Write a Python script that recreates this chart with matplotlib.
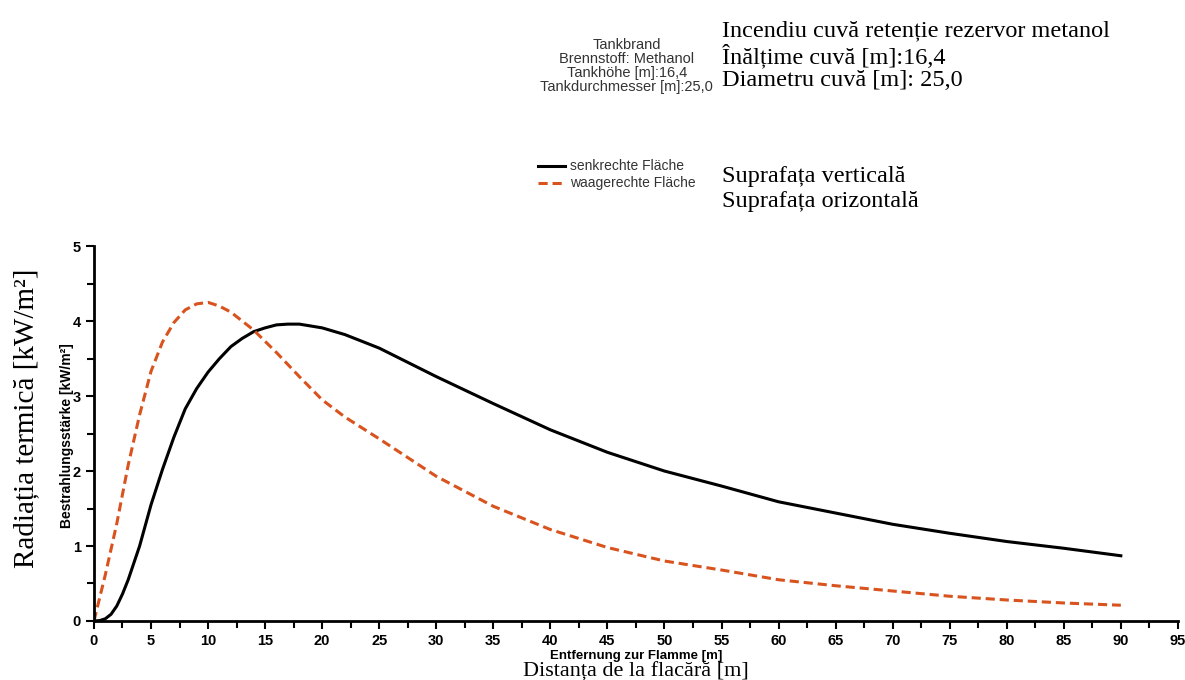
import matplotlib
matplotlib.use("Agg")
import matplotlib.pyplot as plt
from matplotlib.ticker import MultipleLocator

# data
x_vert = [0, 0.5, 1, 1.5, 2, 2.5, 3, 4, 5, 6, 7, 8, 9, 10, 11, 12, 13, 14, 15, 16, 17, 18,
          20, 22, 25, 30, 35, 40, 45, 50, 55, 60, 65, 70, 75, 80, 85, 90]
y_vert = [0, 0.005, 0.03, 0.09, 0.2, 0.36, 0.55, 1.0, 1.55, 2.02, 2.45, 2.83, 3.1, 3.32,
          3.5, 3.66, 3.77, 3.86, 3.91, 3.95, 3.96, 3.96, 3.91, 3.82, 3.64, 3.26, 2.9, 2.55,
          2.25, 2.0, 1.8, 1.59, 1.44, 1.29, 1.17, 1.06, 0.97, 0.87]

x_horiz = [0, 1, 2, 3, 4, 5, 6, 7, 8, 9, 10, 11, 12, 13, 14, 15, 16, 18, 20, 22, 25, 30,
           35, 40, 45, 50, 55, 60, 65, 70, 75, 80, 85, 90]
y_horiz = [0, 0.62, 1.3, 2.08, 2.75, 3.33, 3.72, 3.98, 4.15, 4.23, 4.25, 4.2, 4.12, 4.0,
           3.88, 3.73, 3.58, 3.26, 2.95, 2.72, 2.43, 1.93, 1.53, 1.22, 0.98, 0.8, 0.68,
           0.55, 0.47, 0.4, 0.33, 0.28, 0.24, 0.21]

orange = "#d9531e"
sans = ["Liberation Sans Narrow", "Liberation Sans", "DejaVu Sans"]
serif = ["Liberation Serif", "DejaVu Serif"]

fig = plt.figure(figsize=(11.85, 6.8), dpi=100)
ax = fig.add_axes([0.0793, 0.0868, 0.9147, 0.5512])

ax.plot(x_vert, y_vert, color="black", lw=2.2)
ax.plot(x_horiz, y_horiz, color=orange, lw=2.2, ls=(0, (3, 1.6)))

ax.set_xlim(0, 95)
ax.set_ylim(0, 5)
ax.xaxis.set_major_locator(MultipleLocator(5))
ax.xaxis.set_minor_locator(MultipleLocator(2.5))
ax.yaxis.set_major_locator(MultipleLocator(1))
ax.yaxis.set_minor_locator(MultipleLocator(0.5))
for s in ["top", "right"]:
    ax.spines[s].set_visible(False)
for s in ["left", "bottom"]:
    ax.spines[s].set_linewidth(2)
ax.tick_params(which="both", direction="out", width=1.5)
ax.tick_params(which="major", length=6, labelsize=10.5)
ax.tick_params(which="minor", length=5)
for lab in ax.get_xticklabels() + ax.get_yticklabels():
    lab.set_family(sans)
    lab.set_fontweight("bold")

# original german axis labels
fig.text(0.0565, 0.36, "Bestrahlungsstärke [kW/m²]", rotation=90, ha="center", va="center",
         family=sans, fontweight="bold", fontsize=10)
fig.text(0.537, 0.036, "Entfernung zur Flamme [m]", ha="center", va="center",
         family=sans, fontweight="bold", fontsize=9.5)

# romanian overlay labels
fig.text(0.022, 0.385, "Radiația termică [kW/m²]", rotation=90, ha="center", va="center",
         family=serif, fontsize=21)
fig.text(0.537, 0.011, "Distanța de la flacără [m]", ha="center", va="center",
         family=serif, fontsize=16)

# header block
fig.text(0.529, 0.903, "Tankbrand\nBrennstoff: Methanol\nTankhöhe [m]:16,4\nTankdurchmesser [m]:25,0",
         ha="center", va="center", family=sans, fontsize=10.5, color="#333333", linespacing=1.0)
fig.text(0.609, 0.955, "Incendiu cuvă retenție rezervor metanol", ha="left", va="center",
         family=serif, fontsize=17.5)
fig.text(0.609, 0.918, "Înălțime cuvă [m]:16,4", ha="left", va="center",
         family=serif, fontsize=17.5)
fig.text(0.609, 0.881, "Diametru cuvă [m]: 25,0", ha="left", va="center",
         family=serif, fontsize=17.5)

# legend drawn by hand in figure coords
fig.add_artist(plt.Line2D([0.454, 0.477], [0.756, 0.756], color="black", lw=2.2,
                          transform=fig.transFigure))
fig.add_artist(plt.Line2D([0.454, 0.477], [0.731, 0.731], color=orange, lw=2.2,
                          ls=(0, (3, 1.6)), transform=fig.transFigure))
fig.text(0.481, 0.756, "senkrechte Fläche", ha="left", va="center", family=sans,
         fontsize=10, color="#333333")
fig.text(0.481, 0.731, "waagerechte Fläche", ha="left", va="center", family=sans,
         fontsize=10, color="#333333")
fig.text(0.609, 0.741, "Suprafața verticală", ha="left", va="center", family=serif, fontsize=17.5)
fig.text(0.609, 0.704, "Suprafața orizontală", ha="left", va="center", family=serif, fontsize=17.5)

fig.savefig("out.png", dpi=100)
